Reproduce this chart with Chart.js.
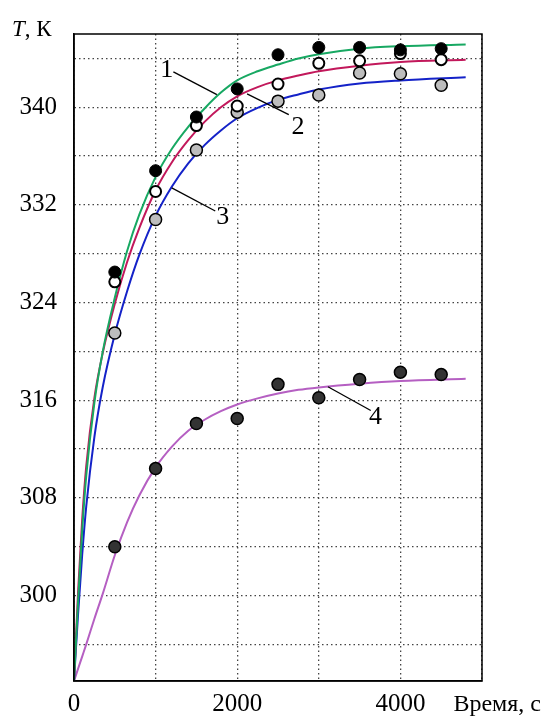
<!DOCTYPE html>
<html>
<head>
<meta charset="utf-8">
<script src="https://cdn.jsdelivr.net/npm/chart.js@4/dist/chart.umd.min.js"></script>
<style>
  html, body { margin: 0; padding: 0; background: #fff; }
  #c { display: block; }
</style>
</head>
<body>
<canvas id="c" width="546" height="716"></canvas>
<script>
// ---- experimental points (time, s) ----
const expTimes = [500, 1000, 1500, 2000, 2500, 3000, 3500, 4000, 4500];
const exp1 = [326.5, 334.8, 339.2, 341.5, 344.3, 344.9, 344.9, 344.7, 344.8];
const exp2 = [325.7, 333.1, 338.5, 340.1, 341.9, 343.6, 343.8, 344.4, 343.9];
const exp3 = [321.5, 330.8, 336.5, 339.6, 340.5, 341.0, 342.8, 342.75, 341.8];
const exp4 = [304.0, 310.4, 314.1, 314.5, 317.3, 316.2, 317.7, 318.3, 318.1];

// ---- fitted curves ----
const fitTimes = [0, 50, 100, 150, 250, 350, 500, 650, 800, 1000, 1200, 1400, 1600, 1800, 2000, 2250, 2500, 2750, 3000, 3500, 4000, 4800];
const fit1 = [293, 299.5, 305.3, 309.8, 315.8, 319.9, 324.4, 328.2, 331.2, 334.3, 336.6, 338.4, 339.9, 341.2, 342.2, 342.95, 343.5, 344.0, 344.35, 344.8, 345.0, 345.15];
const fit2 = [293, 300.3, 306.2, 310.6, 316.2, 319.8, 323.9, 327.3, 330.1, 333.2, 335.5, 337.3, 338.8, 340.0, 340.9, 341.65, 342.2, 342.6, 342.95, 343.4, 343.7, 343.9];
const fit3 = [293, 298.5, 303.3, 307.3, 313.0, 317.0, 321.4, 324.9, 327.9, 331.1, 333.5, 335.4, 336.9, 338.1, 339.1, 339.95, 340.6, 341.05, 341.45, 341.95, 342.2, 342.45];
const fit4 = [293, 294.0, 295.0, 296.0, 298.1, 300.1, 303.3, 306.0, 308.2, 310.5, 312.2, 313.5, 314.4, 315.1, 315.65, 316.15, 316.55, 316.85, 317.05, 317.35, 317.57, 317.75];

// ---- axes ----
const xGrid = [0, 1000, 2000, 3000, 4000, 5000];
const xTickLabels = [0, 2000, 4000];
const yGrid = [296, 300, 304, 308, 312, 316, 320, 324, 328, 332, 336, 340, 344];
const yTickLabels = [300, 308, 316, 324, 332, 340];
const xMin = 0, xMax = 5000, yMin = 293, yMax = 346;
const yTitleItalic = 'T';
const yTitleRest = ', К';
const xTitle = 'Время, с';

// ---- curve labels with leader lines (data coordinates) ----
const curveLabels = ['1', '2', '3', '4'];
const labelPos = [[1137, 343.05], [2745, 338.4], [1823, 331.0], [3695, 314.6]];
const leaderStart = [[1751, 341.04], [2121, 341.1], [1198, 333.4], [3112, 317.1]];
const leaderEnd = [[1218, 342.9], [2632, 339.4], [1731, 331.5], [3637, 315.16]];

const SERIF = '"Liberation Serif", "Times New Roman", serif';

const pts = (xs, ys) => xs.map((x, i) => ({x: x, y: ys[i]}));

function lineDs(data, color) {
  return {
    type: 'line', data: pts(fitTimes, data), borderColor: color, borderWidth: 2,
    pointRadius: 0, fill: false, cubicInterpolationMode: 'monotone', order: 10
  };
}
function pointDs(data, fill, border, bw, r, order) {
  return {
    type: 'scatter', data: pts(expTimes, data), showLine: false,
    pointRadius: r, pointBackgroundColor: fill, pointBorderColor: border,
    pointBorderWidth: bw, order: order
  };
}

const decor = {
  id: 'decor',
  afterDraw(chart) {
    const ctx = chart.ctx, a = chart.chartArea;
    const xs = chart.scales.x, ys = chart.scales.y;
    ctx.save();
    // frame
    ctx.strokeStyle = '#000';
    ctx.lineWidth = 1.5;
    ctx.strokeRect(a.left, a.top, a.right - a.left, a.bottom - a.top);
    // leaders and labels
    ctx.lineWidth = 1.3;
    ctx.fillStyle = '#000';
    ctx.font = '26px ' + SERIF;
    ctx.textAlign = 'center';
    ctx.textBaseline = 'middle';
    curveLabels.forEach((t, i) => {
      ctx.beginPath();
      ctx.moveTo(xs.getPixelForValue(leaderStart[i][0]), ys.getPixelForValue(leaderStart[i][1]));
      ctx.lineTo(xs.getPixelForValue(leaderEnd[i][0]), ys.getPixelForValue(leaderEnd[i][1]));
      ctx.stroke();
      ctx.fillText(t, xs.getPixelForValue(labelPos[i][0]), ys.getPixelForValue(labelPos[i][1]));
    });
    // y title
    ctx.textAlign = 'left';
    ctx.textBaseline = 'alphabetic';
    ctx.font = 'italic 23px ' + SERIF;
    ctx.fillText(yTitleItalic, 12, 36);
    const w = ctx.measureText(yTitleItalic).width;
    ctx.font = '23px ' + SERIF;
    ctx.fillText(yTitleRest, 12 + w, 36);
    // x title
    ctx.font = '24px ' + SERIF;
    ctx.textAlign = 'right';
    ctx.fillText(xTitle, 541, 711);
    ctx.restore();
  }
};

new Chart(document.getElementById('c'), {
  data: {
    datasets: [
      lineDs(fit1, '#17a862'),
      lineDs(fit2, '#c2185b'),
      lineDs(fit3, '#1422c8'),
      lineDs(fit4, '#b55fc2'),
      pointDs(exp4, '#333333', '#000', 1.5, 6, 3),
      pointDs(exp3, '#bdbdbd', '#000', 1.5, 6, 2),
      pointDs(exp2, '#ffffff', '#000', 2, 5.5, 1),
      pointDs(exp1, '#000000', '#000', 1, 6, 0)
    ]
  },
  options: {
    responsive: false,
    animation: false,
    devicePixelRatio: 1,
    layout: { padding: { left: 0, right: 64, top: 34, bottom: 0 } },
    plugins: { legend: { display: false }, tooltip: { enabled: false } },
    scales: {
      x: {
        type: 'linear', min: xMin, max: xMax,
        afterBuildTicks: s => { s.ticks = xGrid.map(v => ({value: v})); },
        afterFit: s => { s.height = 35; },
        ticks: {
          autoSkip: false, maxRotation: 0, padding: 8, color: '#000',
          font: { family: SERIF, size: 25 },
          callback: v => xTickLabels.includes(v) ? String(v) : ''
        },
        grid: { color: '#444', lineWidth: 1.3, drawTicks: false },
        border: { display: true, color: '#000', width: 1.5, dash: [1.5, 3] }
      },
      y: {
        type: 'linear', min: yMin, max: yMax,
        afterBuildTicks: s => { s.ticks = yGrid.map(v => ({value: v})); },
        afterFit: s => { s.width = 74; },
        ticks: {
          autoSkip: false, padding: 17, color: '#000',
          font: { family: SERIF, size: 25 },
          callback: v => yTickLabels.includes(v) ? String(v) : ''
        },
        grid: { color: '#444', lineWidth: 1.3, drawTicks: false },
        border: { display: true, color: '#000', width: 1.5, dash: [1.5, 3] }
      }
    }
  },
  plugins: [decor]
});
</script>
</body>
</html>
